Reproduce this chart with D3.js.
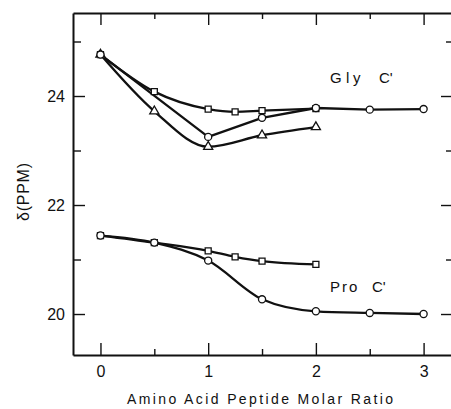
<!DOCTYPE html>
<html>
<head>
<meta charset="utf-8">
<script src="https://cdn.jsdelivr.net/npm/d3@7"></script>
<style>
  html, body { margin: 0; padding: 0; background: #fff; }
  svg { display: block; }
  text { font-family: "Liberation Sans", Arial, sans-serif; fill: #111; }
</style>
</head>
<body>
<svg id="chart" width="451" height="409"></svg>
<script>
// Molar ratio (amino acid : peptide) and carbonyl shifts in ppm
const glySquareRatio = [0, 0.5, 1, 1.25, 1.5, 2];
const glySquarePpm   = [24.76, 24.08, 23.76, 23.71, 23.73, 23.77];

const glyCircleRatio = [0, 1, 1.5, 2, 2.5, 3];
const glyCirclePpm   = [24.76, 23.25, 23.6, 23.78, 23.75, 23.76];

const glyTriangleRatio = [0, 0.5, 1, 1.5, 2];
const glyTrianglePpm   = [24.76, 23.72, 23.07, 23.28, 23.43];

const proSquareRatio = [0, 0.5, 1, 1.25, 1.5, 2];
const proSquarePpm   = [21.44, 21.31, 21.16, 21.05, 20.97, 20.91];

const proCircleRatio = [0, 0.5, 1, 1.5, 2, 2.5, 3];
const proCirclePpm   = [21.44, 21.31, 20.98, 20.27, 20.05, 20.02, 20.0];

const xMajorTicks = [0, 1, 2, 3];
const xMinorTicks = [0.5, 1.5, 2.5];
const yMajorTicks = [20, 22, 24];
const yMinorTicks = [21, 23, 25];

const xTitle = "Amino Acid Peptide Molar Ratio";
const yTitle = "δ(PPM)";

const svg = d3.select("#chart");
const plotLeft = 73, plotTop = 13, plotRight = 453, plotBottom = 355;

const x = d3.scaleLinear().domain([-0.255, 3.273]).range([plotLeft, plotRight]);
const y = d3.scaleLinear().domain([19.248, 25.523]).range([plotBottom, plotTop]);

// Frame: four axes with inward ticks, labels only on bottom and left
function styleAxis(g) {
  g.selectAll("path.domain").attr("stroke", "#111").attr("stroke-width", 2);
  g.selectAll(".tick line").attr("stroke", "#111").attr("stroke-width", 1.4);
  g.selectAll(".tick text").style("font-size", "16px").attr("fill", "#111");
}

svg.append("g").attr("transform", `translate(0,${plotBottom})`)
  .call(d3.axisBottom(x).tickValues(xMajorTicks).tickFormat(d3.format("d"))
    .tickSizeInner(-12).tickSizeOuter(0).tickPadding(11))
  .call(styleAxis);
svg.append("g").attr("transform", `translate(0,${plotBottom})`)
  .call(d3.axisBottom(x).tickValues(xMinorTicks).tickFormat("")
    .tickSizeInner(-6).tickSizeOuter(0))
  .call(g => g.select("path.domain").remove())
  .call(styleAxis);

svg.append("g").attr("transform", `translate(0,${plotTop})`)
  .call(d3.axisTop(x).tickValues(xMajorTicks).tickFormat("")
    .tickSizeInner(-12).tickSizeOuter(0))
  .call(styleAxis);
svg.append("g").attr("transform", `translate(0,${plotTop})`)
  .call(d3.axisTop(x).tickValues(xMinorTicks).tickFormat("")
    .tickSizeInner(-6).tickSizeOuter(0))
  .call(g => g.select("path.domain").remove())
  .call(styleAxis);

svg.append("g").attr("transform", `translate(${plotLeft},0)`)
  .call(d3.axisLeft(y).tickValues(yMajorTicks).tickFormat(d3.format("d"))
    .tickSizeInner(-12).tickSizeOuter(0).tickPadding(8))
  .call(styleAxis);
svg.append("g").attr("transform", `translate(${plotLeft},0)`)
  .call(d3.axisLeft(y).tickValues(yMinorTicks).tickFormat("")
    .tickSizeInner(-8).tickSizeOuter(0))
  .call(g => g.select("path.domain").remove())
  .call(styleAxis);

svg.append("g").attr("transform", `translate(${plotRight},0)`)
  .call(d3.axisRight(y).tickValues(yMajorTicks).tickFormat("")
    .tickSizeInner(-12).tickSizeOuter(0))
  .call(styleAxis);
svg.append("g").attr("transform", `translate(${plotRight},0)`)
  .call(d3.axisRight(y).tickValues(yMinorTicks).tickFormat("")
    .tickSizeInner(-7).tickSizeOuter(0))
  .call(g => g.select("path.domain").remove())
  .call(styleAxis);

// Axis titles
svg.append("text")
  .attr("x", (127 + 393) / 2).attr("y", 404)
  .attr("text-anchor", "middle")
  .attr("textLength", 266).attr("lengthAdjust", "spacing")
  .style("font-size", "14px")
  .text(xTitle);

svg.append("text")
  .attr("transform", "translate(29,192) rotate(-90)")
  .attr("text-anchor", "middle")
  .attr("textLength", 58).attr("lengthAdjust", "spacing")
  .style("font-size", "16px")
  .text(yTitle);

// Series: the glycine circle trace runs in near-straight strokes with a sharp minimum,
// the others are smooth
const smooth = d3.curveMonotoneX;
const series = [
  { rx: glySquareRatio, py: glySquarePpm, marker: "square", curve: smooth },
  { rx: glyTriangleRatio, py: glyTrianglePpm, marker: "triangle", curve: smooth },
  { rx: glyCircleRatio, py: glyCirclePpm, marker: "circle", curve: d3.curveLinear },
  { rx: proSquareRatio, py: proSquarePpm, marker: "square", curve: smooth },
  { rx: proCircleRatio, py: proCirclePpm, marker: "circle", curve: smooth }
].map(s => ({ marker: s.marker, curve: s.curve, pts: s.rx.map((v, i) => [v, s.py[i]]) }));

const lineLayer = svg.append("g");
const markLayer = svg.append("g");

series.forEach(s => {
  const line = d3.line().x(d => x(d[0])).y(d => y(d[1])).curve(s.curve);
  lineLayer.append("path")
    .attr("d", line(s.pts))
    .attr("fill", "none")
    .attr("stroke", "#111")
    .attr("stroke-width", 2.3)
    .attr("stroke-linejoin", "round");
});

const symbolType = { square: d3.symbolSquare, circle: d3.symbolCircle, triangle: d3.symbolTriangle };
const symbolSize = { square: 36, circle: 40, triangle: 36 };

series.forEach(s => {
  const sym = d3.symbol().type(symbolType[s.marker]).size(symbolSize[s.marker]);
  markLayer.selectAll(null)
    .data(s.pts)
    .join("path")
    .attr("transform", d => `translate(${x(d[0])},${y(d[1])})`)
    .attr("d", sym)
    .attr("fill", "#fff")
    .attr("stroke", "#111")
    .attr("stroke-width", 1.3);
});

// Series labels
const glyLabel = svg.append("text").attr("y", 83).style("font-size", "15px");
glyLabel.append("tspan").attr("x", 330).text("G");
glyLabel.append("tspan").attr("x", 346).text("l");
glyLabel.append("tspan").attr("x", 353).text("y");
glyLabel.append("tspan").attr("x", 379).text("C'");

const proLabel = svg.append("text").attr("y", 292).style("font-size", "15px");
proLabel.append("tspan").attr("x", 330).text("P");
proLabel.append("tspan").attr("x", 342).text("r");
proLabel.append("tspan").attr("x", 349).text("o");
proLabel.append("tspan").attr("x", 372).text("C'");
</script>
</body>
</html>
